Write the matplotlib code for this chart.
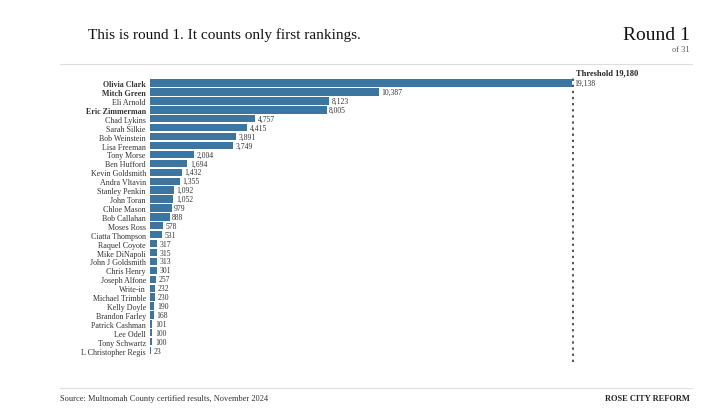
import matplotlib.pyplot as plt
from matplotlib.lines import Line2D

plt.rcParams['font.family'] = ['Liberation Serif', 'DejaVu Serif']

names = ["Olivia Clark", "Mitch Green", "Eli Arnold", "Eric Zimmerman", "Chad Lykins",
         "Sarah Silkie", "Bob Weinstein", "Lisa Freeman", "Tony Morse", "Ben Hufford",
         "Kevin Goldsmith", "Andra Vltavin", "Stanley Penkin", "John Toran", "Chloe Mason",
         "Bob Callahan", "Moses Ross", "Ciatta Thompson", "Raquel Coyote", "Mike DiNapoli",
         "John J Goldsmith", "Chris Henry", "Joseph Alfone", "Write-in", "Michael Trimble",
         "Kelly Doyle", "Brandon Farley", "Patrick Cashman", "Lee Odell", "Tony Schwartz",
         "L Christopher Regis"]
votes = [19138, 10387, 8123, 8005, 4757, 4415, 3891, 3749, 2004, 1694, 1432, 1355,
         1092, 1052, 979, 888, 578, 531, 317, 315, 313, 301, 257, 232, 230, 190, 168,
         101, 100, 100, 23]
bold_names = ["Olivia Clark", "Mitch Green", "Eric Zimmerman"]
threshold = 19180

fig = plt.figure(figsize=(7.28, 4.10), dpi=100)
ax = fig.add_axes([150 / 728, 1 - 357 / 410, 423 / 728, 280 / 410])

ys = range(len(names))
ax.barh(ys, votes, height=0.82, color='#3b75a0')
for y, v in zip(ys, votes):
    ax.text(v + 120, y, f"{v:,}", va='center', ha='left', fontsize=5.5, color='#333333')
ax.set_yticks(list(ys))
ax.set_yticklabels(names, fontsize=5.8, color='#333333')
for lbl in ax.get_yticklabels():
    if lbl.get_text() in bold_names:
        lbl.set_fontweight('bold')
ax.tick_params(axis='y', length=0, pad=3)
ax.set_xticks([])
ax.set_xlim(0, threshold)
ax.set_ylim(len(names) - 0.4, -0.8)
for s in ax.spines.values():
    s.set_visible(False)

ax.axvline(threshold, color='#222222', linestyle=(0, (1.5, 2.5)), linewidth=1.1,
           ymin=-0.02, clip_on=False)
ax.text(threshold + 150, -1.25, f"Threshold {threshold:,}", fontsize=6, fontweight='bold',
        va='center', ha='left', color='#222222')

fig.text(88 / 728, 1 - 35 / 410, "This is round 1. It counts only first rankings.",
         fontsize=11, va='center', ha='left', color='#111111')
fig.text(690 / 728, 1 - 35 / 410, "Round 1", fontsize=14, va='center', ha='right', color='#111111')
fig.text(690 / 728, 1 - 50 / 410, "of 31", fontsize=6, va='center', ha='right', color='#555555')
fig.add_artist(Line2D([60 / 728, 692 / 728], [1 - 65 / 410] * 2, color='#dddddd', linewidth=0.8))
fig.add_artist(Line2D([60 / 728, 692 / 728], [1 - 389 / 410] * 2, color='#dddddd', linewidth=0.8))
fig.text(60 / 728, 1 - 399 / 410, "Source: Multnomah County certified results, November 2024",
         fontsize=6, va='center', ha='left', color='#333333')
fig.text(690 / 728, 1 - 399 / 410, "ROSE CITY REFORM", fontsize=6, fontweight='bold',
         va='center', ha='right', color='#222222')

fig.savefig('out.png', dpi=100)
